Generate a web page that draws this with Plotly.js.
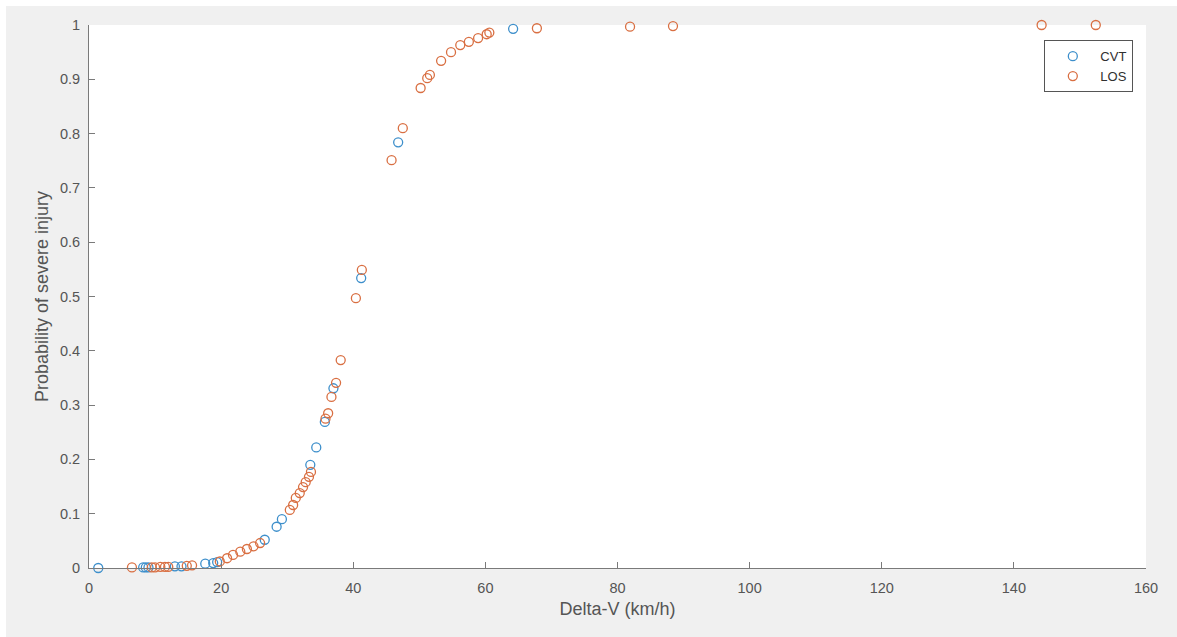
<!DOCTYPE html>
<html>
<head>
<meta charset="utf-8">
<script src="https://cdn.plot.ly/plotly-3.0.1.min.js"></script>
<style>
html,body{margin:0;padding:0;background:#ffffff;}
#chart{position:absolute;left:6px;top:6px;width:1171px;height:631px;}
</style>
</head>
<body>
<div id="chart"></div>
<script>
// Delta-V (km/h) and probability of severe injury
const cvtX = [1.4, 8.2, 8.6, 9.0, 13.0, 14.0, 17.6, 18.8, 19.4, 26.6, 28.4, 29.2, 33.5, 34.4, 35.7, 37.0, 41.2, 46.8, 64.2];
const cvtY = [0.0, 0.001, 0.001, 0.001, 0.003, 0.003, 0.008, 0.009, 0.011, 0.052, 0.076, 0.09, 0.19, 0.222, 0.269, 0.331, 0.534, 0.784, 0.993];

const losX = [6.5, 9.5, 10.0, 10.8, 11.5, 12.0, 14.8, 15.6, 19.8, 20.9, 21.8, 22.9, 23.9, 24.9, 25.9,
  30.4, 30.9, 31.3, 31.9, 32.4, 32.8, 33.3, 33.6, 35.8, 36.2, 36.7, 37.4, 38.1, 40.4, 41.3,
  45.8, 47.5, 50.2, 51.2, 51.6, 53.3, 54.8, 56.2, 57.5, 58.9, 60.2, 60.6, 67.8, 81.9, 88.4, 144.2, 152.4];
const losY = [0.001, 0.001, 0.001, 0.002, 0.002, 0.002, 0.004, 0.005, 0.012, 0.018, 0.024, 0.03, 0.035, 0.04, 0.046,
  0.107, 0.116, 0.129, 0.138, 0.149, 0.158, 0.168, 0.177, 0.275, 0.285, 0.315, 0.341, 0.383, 0.497, 0.549,
  0.751, 0.81, 0.884, 0.902, 0.908, 0.934, 0.95, 0.963, 0.969, 0.976, 0.983, 0.986, 0.994, 0.997, 0.998, 1.0, 1.0];

const seriesNames = ['CVT', 'LOS'];
const xTicks = [0, 20, 40, 60, 80, 100, 120, 140, 160];
const yTicks = [0, 0.1, 0.2, 0.3, 0.4, 0.5, 0.6, 0.7, 0.8, 0.9, 1];

const font = '"Liberation Sans", Arial, Helvetica, sans-serif';
const mk = (c) => ({symbol: 'circle-open', size: 9, color: c, line: {width: 1.3, color: c}});

const data = [
  {x: cvtX, y: cvtY, name: seriesNames[0], type: 'scatter', mode: 'markers', marker: mk('#3d8fcb'), cliponaxis: false},
  {x: losX, y: losY, name: seriesNames[1], type: 'scatter', mode: 'markers', marker: mk('#d96f42'), cliponaxis: false}
];

const axisCommon = {
  showgrid: false, zeroline: false, showline: true, linecolor: '#7a7a7a', linewidth: 1,
  ticks: 'inside', ticklen: 6, tickcolor: '#7a7a7a', tickwidth: 1,
  tickfont: {family: font, size: 14.5, color: '#555555'}
};

const layout = {
  paper_bgcolor: '#f0f0f0',
  plot_bgcolor: '#ffffff',
  margin: {l: 83, r: 31, t: 19, b: 69},
  showlegend: true,
  legend: {
    x: 0.988, y: 0.972, xanchor: 'right', yanchor: 'top',
    bgcolor: '#ffffff', bordercolor: '#555555', borderwidth: 1,
    itemwidth: 45,
    font: {family: font, size: 13, color: '#303030'}
  },
  xaxis: Object.assign({}, axisCommon, {
    range: [0, 160], tickvals: xTicks, ticktext: xTicks.map(String), ticklabelstandoff: 7,
    title: {text: 'Delta-V (km/h)', font: {family: font, size: 18, color: '#555555'}, standoff: 6}
  }),
  yaxis: Object.assign({}, axisCommon, {
    range: [0, 1], tickvals: yTicks, ticktext: yTicks.map(String), ticklabelstandoff: 5,
    title: {text: 'Probability of severe injury', font: {family: font, size: 18, color: '#555555'}, standoff: 6}
  })
};

Plotly.newPlot('chart', data, layout, {displayModeBar: false, responsive: false});
</script>
</body>
</html>
